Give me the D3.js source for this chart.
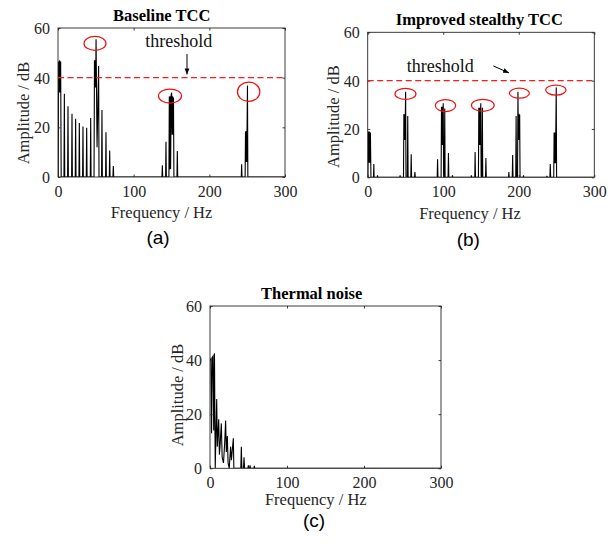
<!DOCTYPE html>
<html><head><meta charset="utf-8">
<script src="https://cdn.jsdelivr.net/npm/d3@7"></script>
<style>body{margin:0;background:#fff}svg{display:block}</style>
</head><body>
<script>
// ---------------- DATA ----------------
const freqTicks = [0, 100, 200, 300];
const ampTicks = [0, 20, 40, 60];
const thresholdDb = 40;
const panelTitles = ["Baseline TCC", "Improved stealthy TCC", "Thermal noise"];
const panelCaptions = ["(a)", "(b)", "(c)"];
const xLabel = "Frequency / Hz";
const yLabel = "Amplitude / dB";
const thresholdText = "threshold";

// spectrum points [frequency Hz, amplitude dB]
const baselineTCC = [
  [0.3,0],[0.8,46.5],[1.5,34],[2.2,47],[2.9,34],[3.5,46.5],[4.2,0],
  [7.9,0],[8.4,33.5],[8.9,0],
  [12.7,0],[13.2,28.5],[13.7,0],
  [18,0],[18.5,25.5],[19,0],
  [22.8,0],[23.3,23.5],[23.8,0],
  [27.7,0],[28.2,21.7],[28.7,0],
  [32.5,0],[33,20.3],[33.5,0],
  [37.4,0],[37.9,19.8],[38.4,0],
  [42.7,0],[43.2,23.8],[43.7,0],
  [47.6,0],[48.2,47],[48.7,36],[49.2,47],[49.7,36],[50.3,55.5],[51.6,12],[53.7,44.7],[54.2,0],
  [57.6,0],[58.1,27],[58.6,0],
  [62.9,0],[63.4,18],[63.9,0],
  [67.8,0],[68.3,10.7],[68.8,0],
  [72.6,0],[73.1,4.4],[73.6,0],
  [137.4,0],[137.9,4.7],[138.4,0],
  [142.2,0],[142.7,14.2],[143.2,0],
  [146.6,0],[147.1,32.4],[147.6,3],[148.2,32.5],[148.8,3.2],[149.5,33],[150.2,34],[150.8,17],[151.5,32.5],[152.1,17],[152.6,32],[153.2,0],
  [157.2,0],[157.7,10.5],[158.2,0],
  [242.2,0],[242.7,5.1],[243.2,0],
  [247.3,0],[247.8,18.3],[248.3,6],[248.8,18.5],[249.4,6],[250.4,36.8],[250.9,0],
  [300,0]
];
const stealthyTCC = [
  [0.3,0],[0.8,18.9],[1.5,6],[2.2,18.9],[2.9,6],[3.6,18.5],[4.3,0],
  [7.7,0],[8.1,5.5],[8.5,0],
  [12.6,0],[13,0.8],[13.4,0],
  [42.5,0],[42.9,0.8],[43.3,0],
  [47.4,0],[47.9,26.2],[48.4,15.4],[48.9,26],[49.4,15.4],[50.2,35.4],[50.7,0],
  [52.5,0],[53,25.4],[53.5,0],
  [57.1,0],[57.6,9.5],[58.1,0],
  [62,0],[62.5,2.2],[63,0],
  [92,0],[92.5,7.5],[93,0],
  [97.2,0],[97.7,29.2],[98.3,13.4],[98.9,29.2],[99.5,13.4],[100,30.6],[100.5,0],
  [101.5,0],[102,28.5],[102.5,0],
  [106.4,0],[106.9,10],[107.4,0],
  [111.8,0],[112.2,0.8],[112.6,0],
  [136.9,0],[137.3,0.8],[137.7,0],
  [141.8,0],[142.2,10.5],[142.7,0],
  [146.6,0],[147.1,28.8],[147.7,13.4],[148.3,28.8],[148.9,13.4],[149.7,30.6],[150.2,0],
  [151.3,0],[151.8,28.8],[152.3,0],
  [156,0],[156.5,8],[157,0],
  [186.5,0],[186.9,2.2],[187.3,0],
  [191.4,0],[191.9,9.2],[192.4,0],
  [196,0],[196.5,25.4],[197,0],
  [198.4,0],[198.9,35.4],[199.5,15.4],[200.1,26.3],[200.7,15.4],[201.2,26],[201.7,0],
  [206,0],[206.3,0.8],[206.6,0],
  [236.8,0],[237.2,0.6],[237.6,0],
  [241.2,0],[241.7,5.5],[242.2,0],
  [246.3,0],[246.8,18.5],[247.4,5.8],[248,18.5],[248.6,5.8],[249.6,37.2],[250.1,0],
  [300,0]
];
const thermalNoise = [
  [0,40],[1.2,40.5],[2,13],[3,41],[4,41.5],[4.8,14],[5.8,42.5],[6.8,0],
  [8.7,25.6],[9.5,8],[11.3,18.1],[12.2,5],[13,8],[14.7,16.6],[15.8,4],[17.5,2],
  [19,9],[20.3,17.7],[21.2,6],[22.5,11.9],[23.5,2],[25,0],
  [26.8,8],[27.8,3],[30.3,11.1],[31,0],
  [40,0],[40.7,8],[41.4,0],
  [43.5,0],[44.2,4.1],[44.9,0],
  [49.3,0],[49.8,1.1],[50.3,0],
  [51.5,0],[52,1.1],[52.5,0],
  [57.1,0],[57.6,0.9],[58.1,0],
  [300,0]
];
// circled peaks [frequency, amplitude]
const baselineMarks = [[48.9,53.8],[148,32.6],[252,34.3]];
const stealthyMarks = [[50,34.5],[103,29.7],[152.4,29.8],[200.8,34.8],[249.1,36.1]];
// threshold annotation: text anchor and arrow [from, to] in data units
const baselineNote = {text:[159.5,52.5], arrow:[[170.5,49.5],[170.5,41.3]]};
const stealthyNote = {text:[96.1,43.7], arrow:[[166.3,46.1],[187.1,43.2]]};

// ---------------- LAYOUT / STYLE ----------------
const W = 613, H = 544;
const panels = [
  {data:baselineTCC, marks:baselineMarks, note:baselineNote, threshold:true,
   x0:58, x1:285, y0:28, y1:177,
   title:[161.7,21], cap:[158,244], xlab:[161.5,218], ylab:[29,113],
   markR:[[11,7],[11.5,7],[11.2,9.6]]},
  {data:stealthyTCC, marks:stealthyMarks, note:stealthyNote, threshold:true,
   x0:367.7, x1:594.3, y0:32.3, y1:177.3,
   title:[479.3,25], cap:[468.3,246], xlab:[470,218.5], ylab:[339.3,116.7],
   markR:[[10.5,5.5],[10.2,6],[11.4,6],[10,5],[10.2,5]]},
  {data:thermalNoise, marks:[], note:null, threshold:false,
   x0:210, x1:441, y0:306, y1:468.3,
   title:[311.7,299], cap:[314,527], xlab:[315.8,505], ylab:[183.3,395],
   markR:[]}
];
const axisColor = "#262626";
const serif = "'Liberation Serif','Times New Roman',serif";
const sans = "'Liberation Sans',Arial,sans-serif";

const svg = d3.select("body").append("svg").attr("width", W).attr("height", H);
const defs = svg.append("defs");
defs.append("marker").attr("id","arrowHead").attr("viewBox","0 0 10 10")
  .attr("refX",10).attr("refY",5).attr("markerWidth",6).attr("markerHeight",6)
  .attr("markerUnits","userSpaceOnUse").attr("orient","auto")
  .append("path").attr("d","M0,1 L10,5 L0,9 Z").attr("fill","#000");

panels.forEach((p, i) => {
  const x = d3.scaleLinear().domain([0,300]).range([p.x0, p.x1]);
  const y = d3.scaleLinear().domain([0,60]).range([p.y1, p.y0]);
  const g = svg.append("g");
  const clipId = "clip" + i;
  defs.append("clipPath").attr("id", clipId).append("rect")
    .attr("x", p.x0).attr("y", p.y0).attr("width", p.x1 - p.x0).attr("height", p.y1 - p.y0);

  // spectrum line
  const line = d3.line().x(d => x(d[0])).y(d => y(d[1]));
  g.append("path").datum(p.data).attr("d", line)
    .attr("fill","none").attr("stroke","#000").attr("stroke-width",1.1)
    .attr("stroke-linejoin","miter").attr("clip-path", `url(#${clipId})`);

  // axes box
  g.append("rect").attr("x",p.x0).attr("y",p.y0).attr("width",p.x1-p.x0).attr("height",p.y1-p.y0)
    .attr("fill","none").attr("stroke",axisColor).attr("stroke-width",0.9);

  // axes via d3 axis (bottom & left with labels, top & right mirrored ticks)
  const tl = 2.5;
  const bottom = g.append("g").attr("transform",`translate(0,${p.y1})`)
    .call(d3.axisBottom(x).tickValues(freqTicks).tickSize(-tl).tickPadding(9).tickFormat(d3.format("d")));
  const top = g.append("g").attr("transform",`translate(0,${p.y0})`)
    .call(d3.axisTop(x).tickValues(freqTicks).tickSize(-tl).tickFormat(""));
  const left = g.append("g").attr("transform",`translate(${p.x0},0)`)
    .call(d3.axisLeft(y).tickValues(ampTicks).tickSize(-tl).tickPadding(8).tickFormat(d3.format("d")));
  const right = g.append("g").attr("transform",`translate(${p.x1},0)`)
    .call(d3.axisRight(y).tickValues(ampTicks).tickSize(-tl).tickFormat(""));
  [bottom, top, left, right].forEach(a => {
    a.select(".domain").remove();
    a.selectAll(".tick line").attr("stroke", axisColor).attr("stroke-width",0.9);
    a.selectAll(".tick text").attr("fill", axisColor).style("font-family", serif).style("font-size","16px");
  });
  bottom.selectAll(".tick text").attr("dy", null).attr("y", null)
    .attr("transform", null).each(function(){ d3.select(this).attr("y", 20).attr("dy", 0); });
  left.selectAll(".tick text").attr("dy","0.34em");

  // threshold line
  if (p.threshold) {
    g.append("line").attr("x1",x(0)).attr("x2",x(300)).attr("y1",y(thresholdDb)).attr("y2",y(thresholdDb))
      .attr("stroke","#ff1a1a").attr("stroke-width",1.3).attr("stroke-dasharray","6,3.5");
  }

  // circled peaks
  p.marks.forEach((m, k) => {
    g.append("ellipse").attr("cx", x(m[0])).attr("cy", y(m[1]))
      .attr("rx", p.markR[k][0]).attr("ry", p.markR[k][1])
      .attr("fill","none").attr("stroke","#ee1111").attr("stroke-width",1.2);
  });

  // threshold note
  if (p.note) {
    g.append("text").attr("x", x(p.note.text[0])).attr("y", y(p.note.text[1]))
      .attr("text-anchor","middle").style("font-family",serif).style("font-size","18px")
      .attr("fill","#111").text(thresholdText);
    g.append("line").attr("x1", x(p.note.arrow[0][0])).attr("y1", y(p.note.arrow[0][1]))
      .attr("x2", x(p.note.arrow[1][0])).attr("y2", y(p.note.arrow[1][1]))
      .attr("stroke","#000").attr("stroke-width",1).attr("marker-end","url(#arrowHead)");
  }

  // title
  g.append("text").attr("x", p.title[0]).attr("y", p.title[1]).attr("text-anchor","middle")
    .style("font-family",serif).style("font-size","16.5px").style("font-weight","bold")
    .attr("fill","#000").text(panelTitles[i]);
  // x label
  g.append("text").attr("x", p.xlab[0]).attr("y", p.xlab[1]).attr("text-anchor","middle")
    .style("font-family",serif).style("font-size","16.5px").attr("fill",axisColor).text(xLabel);
  // y label
  g.append("text").attr("transform",`translate(${p.ylab[0]},${p.ylab[1]}) rotate(-90)`)
    .attr("text-anchor","middle").style("font-family",serif).style("font-size","16.5px")
    .attr("fill",axisColor).text(yLabel);
  // caption
  g.append("text").attr("x", p.cap[0]).attr("y", p.cap[1]).attr("text-anchor","middle")
    .style("font-family",sans).style("font-size","19px").attr("fill","#000").text(panelCaptions[i]);
});
</script>
</body></html>
